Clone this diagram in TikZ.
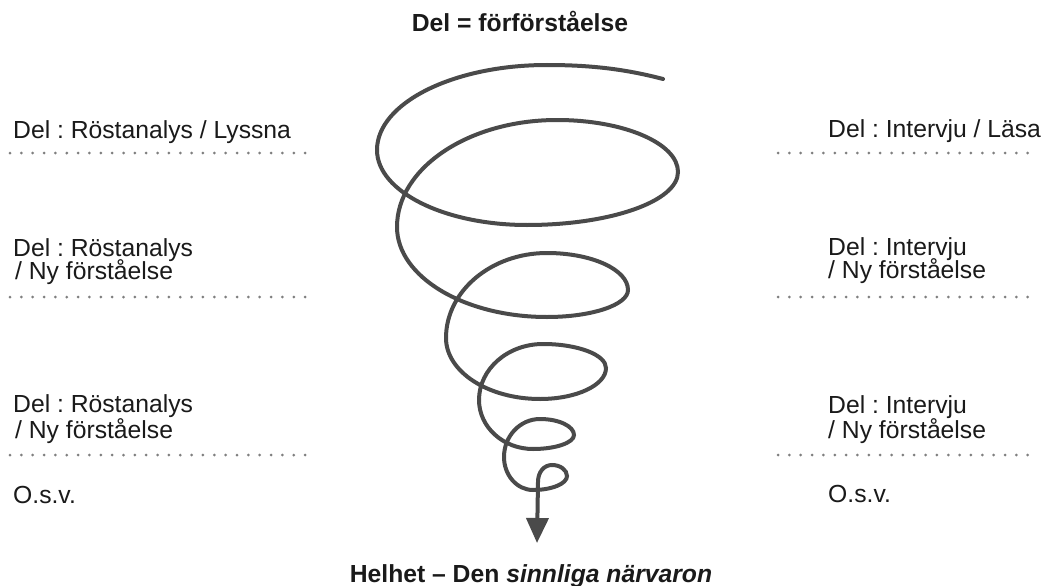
\documentclass[tikz,border=0pt]{standalone}
\usepackage{fontspec}
\setmainfont{Liberation Sans}
\usetikzlibrary{arrows.meta}
\definecolor{spiralc}{HTML}{4A4A4A}
\definecolor{dotc}{HTML}{7F7F7F}
\definecolor{txtc}{HTML}{1A1A1A}
\frenchspacing
\begin{document}
\begin{tikzpicture}[x=1pt,y=-1pt,
  lbl/.style={anchor=base west, inner sep=0pt, text=txtc, font=\fontsize{24.7}{28}\selectfont\frenchspacing},
  ttl/.style={anchor=base, inner sep=0pt, text=txtc, font=\fontsize{24.7}{28}\selectfont\bfseries\frenchspacing},
  dotline/.style={draw=dotc, line width=3pt, line cap=round, dash pattern=on 0pt off 11.35pt},
  spiralline/.style={draw=spiralc, line width=4pt, line cap=round}]
\useasboundingbox (0,0) rectangle (1047,586);
\fill[white] (0,0) rectangle (1047,586);

% titles
\node[ttl] (title) at (520,32) {Del = förförståelse};
\node[ttl] (whole) at (531,582) {Helhet – Den \textit{sinnliga närvaron}};

% left column
\node[lbl] (l1)  at (13,138) {Del : Röstanalys / Lyssna};
\node[lbl] (l2a) at (13,256) {Del : Röstanalys};
\node[lbl] (l2b) at (15,279) {/ Ny förståelse};
\node[lbl] (l3a) at (13,412) {Del : Röstanalys};
\node[lbl] (l3b) at (15,438) {/ Ny förståelse};
\node[lbl] (l4)  at (13,503) {O.s.v.};

% right column
\node[lbl] (r1)  at (828,137) {Del : Intervju / Läsa};
\node[lbl] (r2a) at (828,255) {Del : Intervju};
\node[lbl] (r2b) at (828,278) {/ Ny förståelse};
\node[lbl] (r3a) at (828,413) {Del : Intervju};
\node[lbl] (r3b) at (828,438) {/ Ny förståelse};
\node[lbl] (r4)  at (828,502) {O.s.v.};

% dotted separators
\draw[dotline] (10,153) -- (306,153);
\draw[dotline] (10,297) -- (306,297);
\draw[dotline] (10,455) -- (306,455);
\draw[dotline] (778,153) -- (1029,153);
\draw[dotline] (778,297) -- (1029,297);
\draw[dotline] (778,455) -- (1029,455);

% spiral
\draw[spiralline, -{Triangle[length=25pt,width=22pt]}]
  (663,79) .. controls (625,69) and (590,65) .. (547,65)
  .. controls (453.2,65) and (377,103.1) .. (377,150)
  .. controls (377,191.4) and (444.2,225) .. (527,225)
  .. controls (610.4,225) and (678,201.3) .. (678,172)
  .. controls (678,143.3) and (623.8,120) .. (557,120)
  .. controls (468.7,120) and (397,167.9) .. (397,227)
  .. controls (397,276.7) and (464.2,317) .. (547,317)
  .. controls (591.7,317) and (628,304.9) .. (628,290)
  .. controls (628,269.6) and (591.7,253) .. (547,253)
  .. controls (491.2,253) and (446,291.1) .. (446,338)
  .. controls (446,371.7) and (488.1,399) .. (540,399)
  .. controls (576.4,399) and (606,385.1) .. (606,368)
  .. controls (606,354.8) and (577.8,344) .. (543,344)
  .. controls (507.7,344) and (479,369.1) .. (479,400)
  .. controls (479,427) and (503.2,449) .. (533,449)
  .. controls (555.6,449) and (574,442.7) .. (574,435)
  .. controls (574,426.2) and (558.8,419) .. (540,419)
  .. controls (520.1,419) and (504,436) .. (504,457)
  .. controls (504,475.2) and (517,490) .. (533,490)
  .. controls (551.8,490) and (567,483.7) .. (567,476)
  .. controls (567,470) and (560.3,465) .. (552,465)
  .. controls (544,465) and (538,472) .. (538,482)
  -- (537,543);
\end{tikzpicture}
\end{document}
